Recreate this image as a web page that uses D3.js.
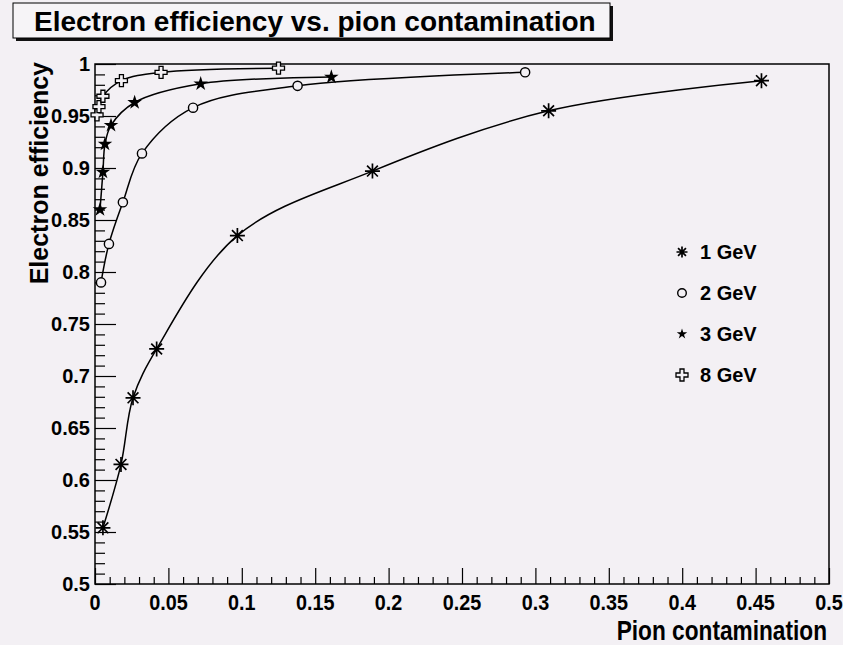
<!DOCTYPE html>
<html>
<head>
<meta charset="utf-8">
<script src="https://cdn.jsdelivr.net/npm/d3@7"></script>
<style>
  html, body { margin: 0; padding: 0; background: #f3f0f4; }
  svg { display: block; }
  text { font-family: "Liberation Sans", Arial, Helvetica, sans-serif; font-weight: bold; fill: #000; }
</style>
</head>
<body>
<svg id="chart" width="843" height="645"></svg>
<script>
// Electron efficiency vs. pion contamination, per beam energy
const seriesNames = ["1 GeV", "2 GeV", "3 GeV", "8 GeV"];
const pion1 = [0.0054, 0.0177, 0.0259, 0.042, 0.097, 0.189, 0.309, 0.454];
const eff1  = [0.554, 0.615, 0.679, 0.726, 0.835, 0.897, 0.955, 0.984];
const pion2 = [0.0041, 0.0095, 0.019, 0.032, 0.0668, 0.138, 0.293];
const eff2  = [0.790, 0.827, 0.867, 0.914, 0.958, 0.979, 0.992];
const pion3 = [0.0034, 0.0054, 0.0068, 0.0109, 0.027, 0.072, 0.161];
const eff3  = [0.860, 0.896, 0.923, 0.941, 0.963, 0.981, 0.9875];
const pion8 = [0.0014, 0.0027, 0.0054, 0.018, 0.045, 0.125];
const eff8  = [0.951, 0.959, 0.969, 0.984, 0.992, 0.996];
const xTickLabels = ["0", "0.05", "0.1", "0.15", "0.2", "0.25", "0.3", "0.35", "0.4", "0.45", "0.5"];
const yTickLabels = ["0.5", "0.55", "0.6", "0.65", "0.7", "0.75", "0.8", "0.85", "0.9", "0.95", "1"];

const titleText = "Electron efficiency vs. pion contamination";
const xTitle = "Pion contamination";
const yTitle = "Electron efficiency";

const svg = d3.select("#chart");
const W = 843, H = 645;
const padL = 95, padR = 829, padT = 64, padB = 584;

svg.append("rect").attr("width", W).attr("height", H).attr("fill", "#f3f0f4");

const x = d3.scaleLinear().domain([0, 0.5]).range([padL, padR]);
const y = d3.scaleLinear().domain([0.5, 1]).range([padB, padT]);

// title box with drop shadow
const tb = svg.append("g");
tb.append("rect").attr("x", 16).attr("y", 6).attr("width", 597).attr("height", 35).attr("fill", "#111");
tb.append("rect").attr("x", 13).attr("y", 3).attr("width", 597).attr("height", 35)
  .attr("fill", "#f6f4f7").attr("stroke", "#000").attr("stroke-width", 1);
tb.append("text").attr("x", 34).attr("y", 31).attr("font-size", 28).text(titleText);

// frame
svg.append("rect").attr("x", padL).attr("y", padT).attr("width", padR - padL).attr("height", padB - padT)
  .attr("fill", "none").attr("stroke", "#000").attr("stroke-width", 1.5);

// axes ticks (major + minor)
const xMajor = d3.range(0, 11).map(i => i * 0.05);
const xMinor = d3.range(0, 51).map(i => i * 0.01).filter((v, i) => i % 5 !== 0);
const yMajor = d3.range(0, 11).map(i => 0.5 + i * 0.05);
const yMinor = d3.range(0, 51).map(i => 0.5 + i * 0.01).filter((v, i) => i % 5 !== 0);

svg.append("g").attr("transform", `translate(0,${padB})`)
  .call(d3.axisTop(x).tickValues(xMajor).tickSize(16).tickFormat(""));
svg.append("g").attr("transform", `translate(0,${padB})`)
  .call(d3.axisTop(x).tickValues(xMinor).tickSize(7).tickFormat(""));
svg.append("g").attr("transform", `translate(${padL},0)`)
  .call(d3.axisRight(y).tickValues(yMajor).tickSize(21).tickFormat(""));
svg.append("g").attr("transform", `translate(${padL},0)`)
  .call(d3.axisRight(y).tickValues(yMinor).tickSize(10).tickFormat(""));
svg.selectAll(".domain").remove();
svg.selectAll(".tick line").attr("stroke", "#000").attr("stroke-width", 1.2);

// tick labels (x labels in a condensed face)
svg.append("g").selectAll("text").data(xMajor).join("text")
  .attr("transform", d => `translate(${x(d)},610) scale(0.9,1)`)
  .attr("text-anchor", "middle")
  .attr("font-size", 22)
  .text((d, i) => xTickLabels[i]);
svg.append("g").selectAll("text").data(yMajor).join("text")
  .attr("x", 90).attr("y", d => y(d) + 7)
  .attr("text-anchor", "end")
  .attr("font-size", 20)
  .text((d, i) => yTickLabels[i]);

// axis titles
svg.append("text").attr("transform", "translate(827,640) scale(0.84,1)").attr("text-anchor", "end")
  .attr("font-size", 27).text(xTitle);
svg.append("text").attr("transform", "translate(48,62) rotate(-90)").attr("text-anchor", "end")
  .attr("font-size", 25).text(yTitle);

// marker shapes
function asterisk(g, s) {
  const r = s, d = s * 0.72;
  g.append("path").attr("d",
    `M${-r},0L${r},0M0,${-r}L0,${r}M${-d},${-d}L${d},${d}M${-d},${d}L${d},${-d}`)
    .attr("stroke", "#000").attr("stroke-width", 1.7).attr("fill", "none");
}
function openCircle(g) {
  g.append("circle").attr("r", 4.6).attr("fill", "#f3f0f4").attr("stroke", "#000").attr("stroke-width", 1.4);
}
function filledStar(g) {
  g.append("path").attr("d", d3.symbol(d3.symbolStar, 66)()).attr("fill", "#000");
}
function openCross(g) {
  const a = 2, b = 6;
  g.append("path").attr("d",
    `M${-a},${-b}H${a}V${-a}H${b}V${a}H${a}V${b}H${-a}V${a}H${-b}V${-a}H${-a}Z`)
    .attr("fill", "#f3f0f4").attr("stroke", "#000").attr("stroke-width", 1.3);
}
const markers = [g => asterisk(g, 7.5), openCircle, filledStar, openCross];

const series = [
  { name: seriesNames[0], xs: pion1, ys: eff1 },
  { name: seriesNames[1], xs: pion2, ys: eff2 },
  { name: seriesNames[2], xs: pion3, ys: eff3 },
  { name: seriesNames[3], xs: pion8, ys: eff8 }
];

const line = d3.line().x(d => x(d[0])).y(d => y(d[1])).curve(d3.curveCatmullRom.alpha(0.5));

series.forEach((s) => {
  const pts = s.xs.map((v, i) => [v, s.ys[i]]);
  svg.append("path").attr("d", line(pts)).attr("fill", "none")
    .attr("stroke", "#000").attr("stroke-width", 1.5);
});
series.forEach((s, k) => {
  const pts = s.xs.map((v, i) => [v, s.ys[i]]);
  svg.append("g").selectAll("g").data(pts).join("g")
    .attr("transform", d => `translate(${x(d[0])},${y(d[1])})`)
    .each(function () { markers[k](d3.select(this)); });
});

// legend
const legend = svg.append("g");
const legendY = [252, 293, 334, 375];
series.forEach((s, k) => {
  const g = legend.append("g").attr("transform", `translate(682,${legendY[k]})`);
  if (k === 0) asterisk(g, 5.5);
  else if (k === 1) g.append("circle").attr("r", 4.3).attr("fill", "none").attr("stroke", "#000").attr("stroke-width", 1.4);
  else if (k === 2) g.append("path").attr("d", d3.symbol(d3.symbolStar, 34)()).attr("fill", "#000");
  else openCross(g);
  legend.append("text").attr("x", 700).attr("y", legendY[k] + 7).attr("font-size", 20).text(s.name);
});
</script>
</body>
</html>
